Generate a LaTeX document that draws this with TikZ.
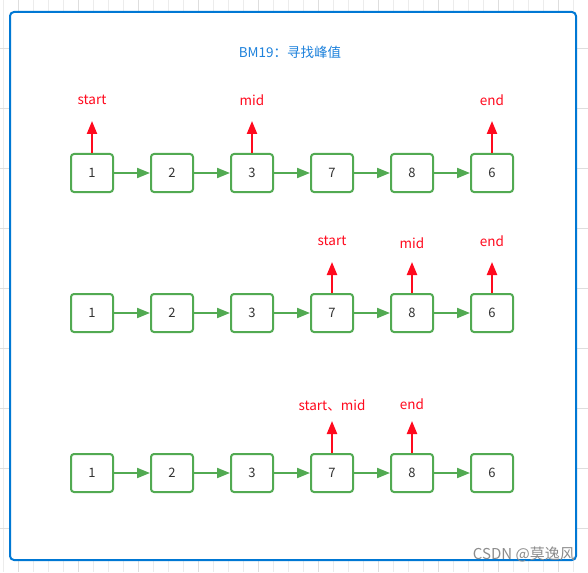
\documentclass[tikz,border=0pt]{standalone}
\usepackage{fontspec}
\setmainfont{Noto Sans CJK SC}
\usetikzlibrary{arrows.meta}
\definecolor{boxgreen}{RGB}{82,170,82}
\definecolor{ptrred}{RGB}{255,10,30}
\definecolor{frameblue}{RGB}{0,120,212}
\definecolor{titleblue}{RGB}{30,130,220}
\definecolor{numgray}{RGB}{51,51,51}
\definecolor{gridlight}{RGB}{236,236,236}
\definecolor{griddark}{RGB}{222,222,222}

\begin{document}
\begin{tikzpicture}[x = 1pt, y = -1pt,
  box/.style = {draw = boxgreen, line width = 2pt, rounded corners = 3pt,
    minimum width = 42pt, minimum height = 38pt, inner sep = 0pt,
    text = numgray, font = \fontsize{13}{15}\selectfont},
  link/.style = {draw = boxgreen, line width = 2pt, -{Triangle[length = 13pt, width = 10pt]}},
  ptr/.style = {draw = ptrred, line width = 2.2pt, -{Triangle[length = 13pt, width = 10pt]}},
  lbl/.style = {text = ptrred, font = \fontsize{13.5}{15}\selectfont, inner sep = 0pt}]
\useasboundingbox (0, 0) rectangle (588, 572);
% Background grid
\fill[white] (0, 0) rectangle (588, 572);
\begin{scope}[shift = {(3.3, 3.3)}]
\draw[gridlight, line width = 1pt, step = 15] (-3.3, -3.3) grid (584.7, 568.7);
\end{scope}
\foreach \gx in {18.3, 78.3, 138.3, 198.3, 258.3, 318.3, 378.3, 438.3, 498.3, 558.3}
  \draw[griddark, line width = 1pt] (\gx, 0) -- (\gx, 572);
\foreach \gy in {48.3, 108.3, 168.3, 228.3, 288.3, 348.3, 408.3, 468.3, 528.3}
  \draw[griddark, line width = 1pt] (0, \gy) -- (588, \gy);
% Frame
\draw[frameblue, line width = 2pt, fill = white, rounded corners = 4pt] (10, 12) rectangle (576, 560);
\node[text = titleblue, font = \fontsize{13.5}{15}\selectfont] (title) at (290, 52) {BM19：寻找峰值};

% Row 1
\node[box] (a1) at (92, 173) {1};
\node[box] (a2) at (172, 173) {2};
\node[box] (a3) at (252, 173) {3};
\node[box] (a4) at (332, 173) {7};
\node[box] (a5) at (412, 173) {8};
\node[box] (a6) at (492, 173) {6};
\draw[link] (a1) -- (a2);
\draw[link] (a2) -- (a3);
\draw[link] (a3) -- (a4);
\draw[link] (a4) -- (a5);
\draw[link] (a5) -- (a6);
\coordinate (a1p) at (92, 121);
\coordinate (a3p) at (252, 121);
\coordinate (a6p) at (492, 121);
\draw[ptr] (a1.north) -- (a1p);
\draw[ptr] (a3.north) -- (a3p);
\draw[ptr] (a6.north) -- (a6p);
\node[lbl] (a1l) at (92, 100) {start};
\node[lbl] (a3l) at (252, 100) {mid};
\node[lbl] (a6l) at (492, 100) {end};

% Row 2
\node[box] (b1) at (92, 313) {1};
\node[box] (b2) at (172, 313) {2};
\node[box] (b3) at (252, 313) {3};
\node[box] (b4) at (332, 313) {7};
\node[box] (b5) at (412, 313) {8};
\node[box] (b6) at (492, 313) {6};
\draw[link] (b1) -- (b2);
\draw[link] (b2) -- (b3);
\draw[link] (b3) -- (b4);
\draw[link] (b4) -- (b5);
\draw[link] (b5) -- (b6);
\coordinate (b4p) at (332, 262);
\coordinate (b5p) at (412, 262);
\coordinate (b6p) at (492, 262);
\draw[ptr] (b4.north) -- (b4p);
\draw[ptr] (b5.north) -- (b5p);
\draw[ptr] (b6.north) -- (b6p);
\node[lbl] (b4l) at (332, 241) {start};
\node[lbl] (b5l) at (412, 243) {mid};
\node[lbl] (b6l) at (492, 241) {end};

% Row 3
\node[box] (c1) at (92, 473) {1};
\node[box] (c2) at (172, 473) {2};
\node[box] (c3) at (252, 473) {3};
\node[box] (c4) at (332, 473) {7};
\node[box] (c5) at (412, 473) {8};
\node[box] (c6) at (492, 473) {6};
\draw[link] (c1) -- (c2);
\draw[link] (c2) -- (c3);
\draw[link] (c3) -- (c4);
\draw[link] (c4) -- (c5);
\draw[link] (c5) -- (c6);
\coordinate (c4p) at (332, 421);
\coordinate (c5p) at (412, 421);
\draw[ptr] (c4.north) -- (c4p);
\draw[ptr] (c5.north) -- (c5p);
\node[lbl] (c4l) at (332, 405) {start、mid};
\node[lbl] (c5l) at (412, 404) {end};

% Watermark
\node[text = black!45, font = \fontsize{15}{17}\selectfont, anchor = east, inner sep = 0pt] (mark) at (575, 554) {CSDN @莫逸风};
\end{tikzpicture}
\end{document}
